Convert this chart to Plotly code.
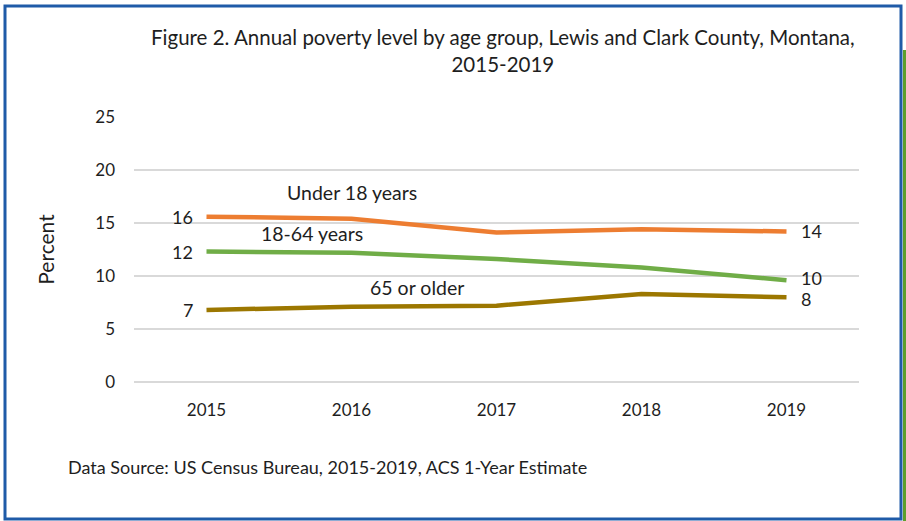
import plotly.graph_objects as go

years = ["2015", "2016", "2017", "2018", "2019"]
under18 = [15.6, 15.4, 14.1, 14.4, 14.2]
adults = [12.3, 12.2, 11.6, 10.8, 9.6]
seniors = [6.8, 7.1, 7.2, 8.3, 8.0]
y_ticks = [0, 5, 10, 15, 20, 25]

FONT = "Lato"
TXT = "#1E1E1E"
W, H = 906, 521
L, R, T, B = 134, 47, 117, 139
PW, PH = W - L - R, H - T - B

def px(x):
    return (x - L) / PW

def py(y):
    return (H - B - y) / PH

fig = go.Figure()
series = [
    ("Under 18 years", under18, "#ED7D31"),
    ("18-64 years", adults, "#70AD47"),
    ("65 or older", seniors, "#9C7700"),
]
for name, vals, col in series:
    fig.add_trace(go.Scatter(x=years, y=vals, mode="lines", name=name,
                             line=dict(color=col, width=4.5), showlegend=False))

last = len(years) - 1
# end value labels
for name, vals, col in series:
    fig.add_annotation(x=0, y=vals[0], text=str(round(vals[0])), showarrow=False,
                       xanchor="right", xshift=-12, font=dict(size=18, color=TXT))
fig.add_annotation(x=last, y=under18[-1], text=str(round(under18[-1])), showarrow=False,
                   xanchor="left", xshift=12, font=dict(size=18, color=TXT))
fig.add_annotation(x=last, y=adults[-1], text=str(round(adults[-1])), showarrow=False,
                   xanchor="left", xshift=12, yshift=2, height=18, font=dict(size=18, color=TXT))
fig.add_annotation(x=last, y=seniors[-1], text=str(round(seniors[-1])), showarrow=False,
                   xanchor="left", xshift=12, yshift=-2, height=18, font=dict(size=18, color=TXT))

# series name labels
fig.add_annotation(x=1.0, y=17.9, text="Under 18 years", showarrow=False,
                   font=dict(size=19.5, color=TXT))
fig.add_annotation(x=0.73, y=14.0, text="18-64 years", showarrow=False,
                   font=dict(size=19.5, color=TXT))
fig.add_annotation(x=1.45, y=8.9, text="65 or older", showarrow=False,
                   font=dict(size=19.5, color=TXT))

# title
fig.add_annotation(xref="paper", yref="paper", x=px(503), y=py(50),
                   text="Figure 2. Annual poverty level by age group, Lewis and Clark County, Montana,<br>2015-2019",
                   showarrow=False, font=dict(size=20.5, color=TXT), align="center",
                   xanchor="center", yanchor="middle")
# source
fig.add_annotation(xref="paper", yref="paper", x=px(66), y=py(467),
                   text="Data Source: US Census Bureau, 2015-2019, ACS 1-Year Estimate",
                   showarrow=False, font=dict(size=18, color=TXT),
                   xanchor="left", yanchor="middle")

# frame
fig.add_shape(type="rect", xref="paper", yref="paper",
              x0=px(5), x1=px(901), y0=py(519), y1=py(6),
              line=dict(color="#1F5BA8", width=3), layer="below")
fig.add_shape(type="rect", xref="paper", yref="paper",
              x0=px(903), x1=px(907), y0=py(521), y1=py(50),
              line=dict(width=0), fillcolor="#5E9F2C", layer="below")

fig.update_layout(
    width=W, height=H,
    margin=dict(l=L, r=R, t=T, b=B),
    paper_bgcolor="white", plot_bgcolor="white",
    font=dict(family=FONT, size=16, color=TXT),
    xaxis=dict(type="category", range=[-0.5, 4.5], showgrid=False, showline=False,
               ticks="", tickfont=dict(size=17), ticklabelstandoff=16),
    yaxis=dict(range=[0, 25], tickvals=y_ticks, showgrid=True, gridcolor="#D9D9D9",
               gridwidth=1.5, zeroline=True, zerolinecolor="#D9D9D9", zerolinewidth=1.5,
               showline=False, ticks="",
               tickfont=dict(size=17), ticklabelstandoff=18,
               title=dict(text="Percent", font=dict(size=21), standoff=34)),
)

fig.write_html("out.html", config={"displayModeBar": False},
               post_script="document.body.style.margin='0';document.documentElement.style.overflow='hidden';")
